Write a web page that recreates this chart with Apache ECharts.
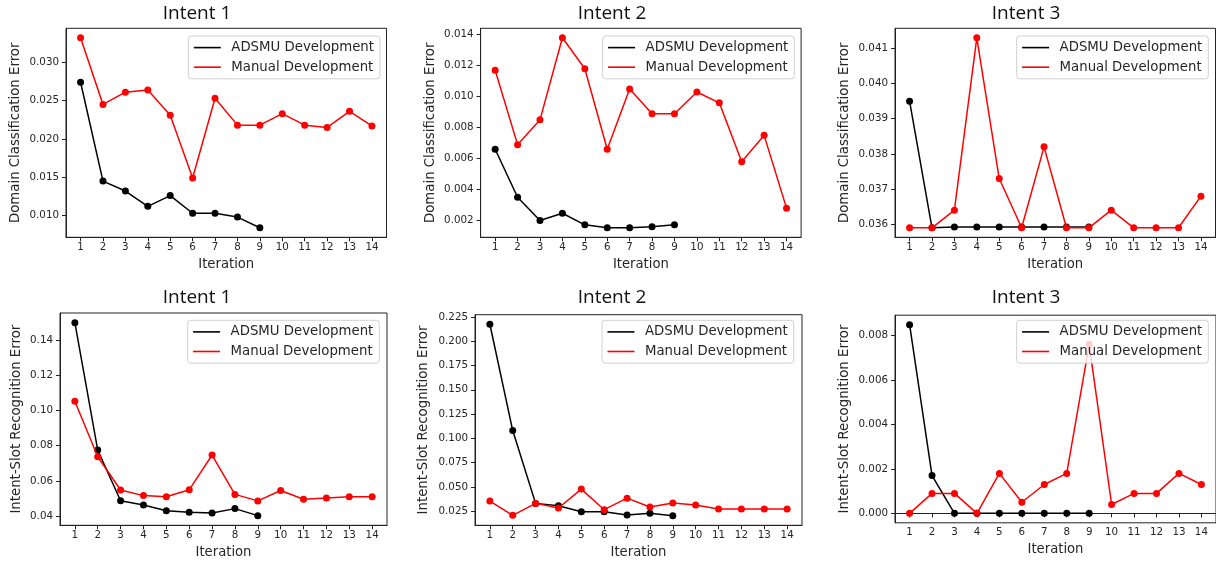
<!DOCTYPE html>
<html>
<head>
<meta charset="utf-8">
<script src="https://cdn.jsdelivr.net/npm/echarts@6/dist/echarts.min.js"></script>
<style>
  html, body { margin: 0; padding: 0; background: #fff; }
  #chart { width: 1216px; height: 563px; }
</style>
</head>
<body>
<div id="chart"></div>
<script>
const iterations = [1, 2, 3, 4, 5, 6, 7, 8, 9, 10, 11, 12, 13, 14];
const titles = ['Intent 1', 'Intent 2', 'Intent 3', 'Intent 1', 'Intent 2', 'Intent 3'];
const seriesNames = ['ADSMU Development', 'Manual Development'];
const yNames = ['Domain Classification Error', 'Intent-Slot Recognition Error'];

// top row: domain classification error
const domainAdsmu1 = [0.0274, 0.0145, 0.0132, 0.0112, 0.0126, 0.0103, 0.0103, 0.0098, 0.0084];
const domainManual1 = [0.0332, 0.0245, 0.0261, 0.0264, 0.0231, 0.0149, 0.0253, 0.0218, 0.0218, 0.0233, 0.0218, 0.0215, 0.0236, 0.0217];
const domainAdsmu2 = [0.0066, 0.0035, 0.0020, 0.00247, 0.00172, 0.00153, 0.00153, 0.0016, 0.00172];
const domainManual2 = [0.0117, 0.0069, 0.0085, 0.0138, 0.0118, 0.0066, 0.0105, 0.0089, 0.0089, 0.0103, 0.0096, 0.0058, 0.0075, 0.0028];
const domainAdsmu3 = [0.0395, 0.0359, 0.03592, 0.03592, 0.03592, 0.03592, 0.03592, 0.03592, 0.03592];
const domainManual3 = [0.0359, 0.0359, 0.0364, 0.0413, 0.0373, 0.0359, 0.0382, 0.0359, 0.0359, 0.0364, 0.0359, 0.0359, 0.0359, 0.0368];

// bottom row: intent-slot recognition error
const slotAdsmu1 = [0.150, 0.0775, 0.0487, 0.0463, 0.0430, 0.0421, 0.0417, 0.0442, 0.0402];
const slotManual1 = [0.1053, 0.0737, 0.0548, 0.0516, 0.0510, 0.0549, 0.0747, 0.0523, 0.0486, 0.0545, 0.0495, 0.0502, 0.0510, 0.0510];
const slotAdsmu2 = [0.2174, 0.1081, 0.0332, 0.0308, 0.0246, 0.0246, 0.0212, 0.0230, 0.0205];
const slotManual2 = [0.0356, 0.0209, 0.0332, 0.0284, 0.0479, 0.0267, 0.0386, 0.0294, 0.0335, 0.0315, 0.0274, 0.0274, 0.0274, 0.0274];
const slotAdsmu3 = [0.0085, 0.0017, 0, 0, 0, 0, 0, 0, 0];
const slotManual3 = [0, 0.0009, 0.0009, 0, 0.0018, 0.0005, 0.0013, 0.0018, 0.0076, 0.0004, 0.0009, 0.0009, 0.0018, 0.0013];

// y tick labels
const domainTicks1 = [0.010, 0.015, 0.020, 0.025, 0.030];
const domainTicks2 = [0.002, 0.004, 0.006, 0.008, 0.010, 0.012, 0.014];
const domainTicks3 = [0.036, 0.037, 0.038, 0.039, 0.040, 0.041];
const slotTicks1 = [0.04, 0.06, 0.08, 0.10, 0.12, 0.14];
const slotTicks2 = [0.025, 0.050, 0.075, 0.100, 0.125, 0.150, 0.175, 0.200, 0.225];
const slotTicks3 = [0.000, 0.002, 0.004, 0.006, 0.008];

const panels = [
  { adsmu: domainAdsmu1, manual: domainManual1, ticks: domainTicks1, digits: 3, row: 0 },
  { adsmu: domainAdsmu2, manual: domainManual2, ticks: domainTicks2, digits: 3, row: 0 },
  { adsmu: domainAdsmu3, manual: domainManual3, ticks: domainTicks3, digits: 3, row: 0 },
  { adsmu: slotAdsmu1, manual: slotManual1, ticks: slotTicks1, digits: 2, row: 1 },
  { adsmu: slotAdsmu2, manual: slotManual2, ticks: slotTicks2, digits: 3, row: 1 },
  { adsmu: slotAdsmu3, manual: slotManual3, ticks: slotTicks3, digits: 3, row: 1 }
];

// pixel layout of each subplot
const boxes = [
  { left: 66, top: 28.3, width: 320.5, height: 209, titleX: 197, titleY: 4.5, legendRight: 836, legendTop: 36, yGap: 44 },
  { left: 480.6, top: 28.3, width: 320.5, height: 209, titleX: 612, titleY: 4.5, legendRight: 421.7, legendTop: 36, yGap: 44 },
  { left: 895, top: 28.3, width: 320.5, height: 209, titleX: 1026, titleY: 4.5, legendRight: 7.7, legendTop: 36, yGap: 43.7 },
  { left: 60, top: 313, width: 327, height: 212.3, titleX: 197, titleY: 288, legendRight: 836.7, legendTop: 320.3, yGap: 37.2 },
  { left: 475, top: 314.7, width: 327, height: 210.6, titleX: 612, titleY: 288, legendRight: 422.3, legendTop: 320.3, yGap: 44.5 },
  { left: 895, top: 315.2, width: 321, height: 207.6, titleX: 1026, titleY: 288, legendRight: 7.7, legendTop: 320.3, yGap: 43.7 }
];

const axisColor = '#222';
const textColor = '#262626';
const font = 'DejaVu Sans';

function pad(vals) {
  // matplotlib-style 5% margins
  const lo = Math.min(...vals), hi = Math.max(...vals);
  const m = (hi - lo) * 0.05;
  return [lo - m, hi + m];
}

const option = {
  backgroundColor: '#fff',
  animation: false,
  title: [],
  legend: [],
  grid: [],
  xAxis: [],
  yAxis: [],
  series: []
};

panels.forEach((p, i) => {
  const b = boxes[i];
  const [yMin, yMax] = pad(p.adsmu.concat(p.manual));
  option.title.push({
    text: titles[i],
    left: b.titleX,
    top: b.titleY,
    textAlign: 'center',
    padding: 0,
    textStyle: { fontFamily: 'Open Sans', fontSize: 19, fontWeight: 'normal', color: '#111' }
  });
  option.grid.push({
    left: b.left, top: b.top, width: b.width, height: b.height,
    show: true, borderColor: axisColor, borderWidth: 1, backgroundColor: '#fff'
  });
  option.legend.push({
    data: seriesNames,
    orient: 'vertical',
    right: b.legendRight,
    top: b.legendTop,
    icon: 'rect',
    itemWidth: 27,
    itemHeight: 1.6,
    itemGap: 4.4,
    padding: [4, 6, 4, 5.4],
    borderColor: '#d0d0d0',
    borderWidth: 1,
    borderRadius: 3,
    backgroundColor: 'rgba(255,255,255,0.8)',
    selectedMode: false,
    textStyle: { fontFamily: font, fontSize: 13.3, color: textColor, lineHeight: 15.2, padding: [0, 0, 0, 5.5] }
  });
  option.xAxis.push({
    type: 'value',
    gridIndex: i,
    min: 0.35,
    max: 14.65,
    name: 'Iteration',
    nameLocation: 'middle',
    nameGap: 20.5,
    nameTextStyle: { fontFamily: font, fontSize: 13.2, color: textColor },
    axisLine: { show: true, lineStyle: { color: axisColor, width: 1 } },
    axisTick: { show: true, inside: false, length: 4, customValues: iterations, lineStyle: { color: axisColor } },
    axisLabel: { customValues: iterations, margin: 5, fontFamily: font, fontSize: 10.3, color: textColor },
    splitLine: { show: false }
  });
  option.yAxis.push({
    type: 'value',
    gridIndex: i,
    min: yMin,
    max: yMax,
    name: yNames[p.row],
    nameLocation: 'middle',
    nameGap: b.yGap,
    nameTextStyle: { fontFamily: font, fontSize: 13.3, color: textColor },
    axisLine: { show: true, lineStyle: { color: axisColor, width: 1 } },
    axisTick: { show: true, inside: false, length: 4, customValues: p.ticks, lineStyle: { color: axisColor } },
    axisLabel: {
      customValues: p.ticks, margin: 7, fontFamily: font, fontSize: 10.3, color: textColor,
      formatter: v => v.toFixed(p.digits)
    },
    splitLine: { show: false }
  });
  [[p.adsmu, '#000000', 0], [p.manual, '#ff0000', 1]].forEach(([vals, color, k]) => {
    option.series.push({
      name: seriesNames[k],
      type: 'line',
      xAxisIndex: i,
      yAxisIndex: i,
      data: vals.map((v, j) => [iterations[j], v]),
      symbol: 'circle',
      symbolSize: 7,
      showSymbol: true,
      lineStyle: { color: color, width: 1.5 },
      itemStyle: { color: color },
      z: 2 + k
    });
  });
});

const chart = echarts.init(document.getElementById('chart'), null, { renderer: 'canvas' });
chart.setOption(option);
</script>
</body>
</html>
